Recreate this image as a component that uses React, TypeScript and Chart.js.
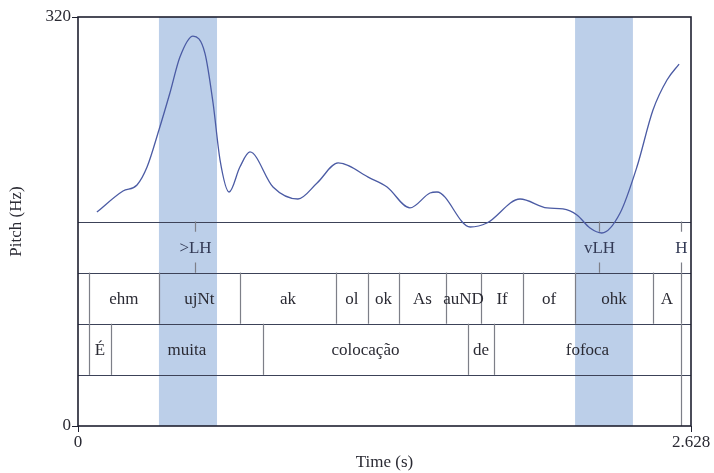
import React, { useEffect, useRef } from "react";
import { Chart, registerables } from "chart.js";

Chart.register(...registerables);

// Pitch contour (seconds, Hz)
const pitchTimes = [
  0.081, 0.193, 0.253, 0.296, 0.347, 0.394, 0.437, 0.493, 0.544, 0.579, 0.609,
  0.648, 0.694, 0.737, 0.836, 0.943, 1.025, 1.115, 1.252, 1.325, 1.423, 1.509,
  1.539, 1.681, 1.753, 1.895, 2.011, 2.079, 2.139, 2.195, 2.246, 2.324, 2.396,
  2.465, 2.525, 2.577,
];
const pitchHz = [
  167.4, 183.9, 188.6, 202.6, 231.6, 260.5, 288.7, 305.1, 291.8, 252.7, 208.1,
  183.1, 202.6, 214.4, 187.0, 177.6, 190.1, 205.8, 194.0, 187.0, 170.6, 182.3,
  183.1, 155.7, 158.8, 177.6, 170.6, 169.8, 165.1, 154.9, 151.0, 166.6, 202.6,
  247.2, 270.7, 283.2,
];

const timeMin = 0;
const timeMax = 2.628;
const hzMin = 0;
const hzMax = 320;

// Highlighted stretches (s)
const highlightStarts = [0.347, 2.131];
const highlightEnds = [0.596, 2.379];

// Tone tier (point tier)
const toneTimes = [0.502, 2.234, 2.585];
const toneLabels = [">LH", "vLH", "H"];

// Phonological-word tier (interval tier)
const phonBounds = [0.047, 0.347, 0.694, 1.106, 1.243, 1.376, 1.578, 1.728, 1.908, 2.131, 2.465, 2.585];
const phonLabels = ["", "ehm", "ujNt", "ak", "ol", "ok", "As", "auND", "If", "of", "ohk", "A", ""];

// Orthographic word tier (interval tier)
const wordBounds = [0.047, 0.141, 0.793, 1.672, 1.783, 2.585];
const wordLabels = ["", "É", "muita", "colocação", "de", "fofoca", ""];

// Empty bottom tier
const emptyBounds = [2.585];

const FONT = "'Liberation Serif', 'Times New Roman', serif";
const TEXT = "#2a2a33";
const LINE = "#3c4258";
const BOUND = "#7d7f88";
const BAND = "#bccfe9";
const CURVE = "#4b5ba4";

const tiersPlugin = {
  id: "tiers",
  beforeDatasetsDraw(chart: any) {
    const { ctx, chartArea } = chart;
    const x = chart.scales.x;
    const { top, bottom, left, right } = chartArea;
    const h = bottom - top;
    ctx.save();

    // highlighted time spans
    ctx.fillStyle = BAND;
    highlightStarts.forEach((s, i) => {
      const x0 = x.getPixelForValue(s);
      const x1 = x.getPixelForValue(highlightEnds[i]);
      ctx.fillRect(x0, top, x1 - x0, h);
    });

    // tier rows: top half is the pitch panel, then four tiers of h/8
    const rowTop = (k: number) => top + h * (4 + k) / 8;

    // horizontal separators
    ctx.strokeStyle = LINE;
    ctx.lineWidth = 1.2;
    for (let k = 0; k < 4; k++) {
      const y = Math.round(rowTop(k)) + 0.5;
      ctx.beginPath();
      ctx.moveTo(left, y);
      ctx.lineTo(right, y);
      ctx.stroke();
    }

    ctx.font = `17px ${FONT}`;
    ctx.textAlign = "center";
    ctx.textBaseline = "middle";

    // tone tier (points with short ticks)
    {
      const y0 = rowTop(0);
      const y1 = rowTop(1);
      const tick = (y1 - y0) * 0.2;
      ctx.strokeStyle = BOUND;
      ctx.lineWidth = 1.2;
      toneTimes.forEach((t, i) => {
        const px = Math.round(x.getPixelForValue(t)) + 0.5;
        ctx.beginPath();
        ctx.moveTo(px, y0);
        ctx.lineTo(px, y0 + tick);
        ctx.moveTo(px, y1 - tick);
        ctx.lineTo(px, y1);
        ctx.stroke();
        ctx.fillStyle = "#333a55";
        ctx.fillText(toneLabels[i], px, (y0 + y1) / 2 + 1);
      });
    }

    // interval tiers
    const drawIntervals = (bounds: number[], labels: string[], k: number) => {
      const y0 = rowTop(k);
      const y1 = k + 1 < 4 ? rowTop(k + 1) : bottom;
      ctx.strokeStyle = BOUND;
      ctx.lineWidth = 1.2;
      bounds.forEach((b) => {
        const px = Math.round(x.getPixelForValue(b)) + 0.5;
        ctx.beginPath();
        ctx.moveTo(px, y0);
        ctx.lineTo(px, y1);
        ctx.stroke();
      });
      const edges = [timeMin, ...bounds, timeMax];
      ctx.fillStyle = TEXT;
      labels.forEach((lab, i) => {
        if (!lab) return;
        const cx = (x.getPixelForValue(edges[i]) + x.getPixelForValue(edges[i + 1])) / 2;
        ctx.fillText(lab, cx, (y0 + y1) / 2 + 1);
      });
    };
    drawIntervals(phonBounds, phonLabels, 1);
    drawIntervals(wordBounds, wordLabels, 2);
    drawIntervals(emptyBounds, [], 3);

    ctx.restore();
  },
  afterDatasetsDraw(chart: any) {
    const { ctx, chartArea } = chart;
    const { top, bottom, left, right } = chartArea;
    ctx.save();
    ctx.strokeStyle = "#1e2030";
    ctx.lineWidth = 1.6;
    ctx.strokeRect(left, top, right - left, bottom - top);
    ctx.restore();
  },
};

export default function App() {
  const canvasRef = useRef<HTMLCanvasElement | null>(null);

  useEffect(() => {
    if (!canvasRef.current) return;
    const chart = new Chart(canvasRef.current, {
      type: "line",
      data: {
        datasets: [
          {
            data: pitchTimes.map((t, i) => ({ x: t, y: pitchHz[i] })),
            borderColor: CURVE,
            borderWidth: 1.3,
            pointRadius: 0,
            cubicInterpolationMode: "monotone",
            fill: false,
          },
        ],
      },
      options: {
        animation: false,
        responsive: true,
        maintainAspectRatio: false,
        layout: { padding: { top: 17, right: 23, left: 0, bottom: 0 } },
        plugins: {
          legend: { display: false },
          tooltip: { enabled: false },
        },
        scales: {
          x: {
            type: "linear",
            min: timeMin,
            max: timeMax,
            afterBuildTicks: (axis: any) => {
              axis.ticks = [{ value: timeMin }, { value: timeMax }];
            },
            afterFit: (scale: any) => {
              scale.height = 47;
            },
            ticks: {
              color: TEXT,
              font: { family: FONT, size: 17 },
              padding: 0,
              maxRotation: 0,
              autoSkip: false,
              callback: (v: any) => String(v),
            },
            grid: { drawOnChartArea: false, drawTicks: true, tickLength: 6, color: "#1e2030" },
            border: { display: false },
            title: {
              display: true,
              text: "Time (s)",
              color: TEXT,
              font: { family: FONT, size: 17 },
              padding: { top: 0, bottom: 0 },
            },
          },
          y: {
            type: "linear",
            min: hzMin,
            max: hzMax,
            afterBuildTicks: (axis: any) => {
              axis.ticks = [{ value: hzMin }, { value: hzMax }];
            },
            afterFit: (scale: any) => {
              scale.width = 78;
            },
            ticks: {
              color: TEXT,
              font: { family: FONT, size: 17 },
              padding: 1,
              autoSkip: false,
              callback: (v: any) => String(v),
            },
            grid: { drawOnChartArea: false, drawTicks: true, tickLength: 6, color: "#1e2030" },
            border: { display: false },
            title: {
              display: true,
              text: "Pitch (Hz)",
              color: TEXT,
              font: { family: FONT, size: 17 },
              padding: { top: 6, bottom: 0 },
            },
          },
        },
      },
      plugins: [tiersPlugin],
    });
    return () => chart.destroy();
  }, []);

  return (
    <div style={{ position: "fixed", left: 0, top: 0, width: 714, height: 473, background: "#fff" }}>
      <canvas ref={canvasRef} />
    </div>
  );
}
